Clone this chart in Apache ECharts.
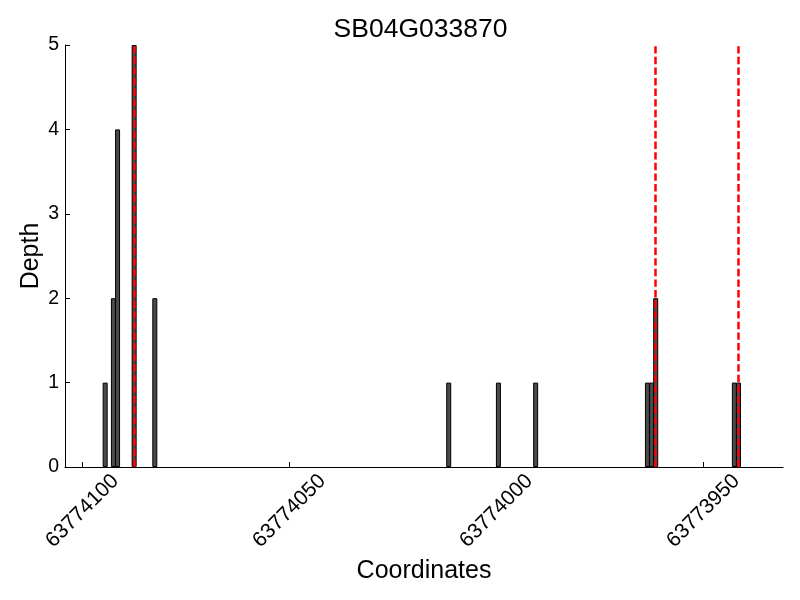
<!DOCTYPE html>
<html>
<head>
<meta charset="utf-8">
<script src="https://cdn.jsdelivr.net/npm/echarts@6/dist/echarts.min.js"></script>
<style>html,body{margin:0;padding:0;background:#fff}#c{width:800px;height:600px}</style>
</head>
<body>
<div id="c"></div>
<script>
const title = "SB04G033870";
const positions = [63774094.5, 63774092.5, 63774091.5, 63774087.5, 63774082.5, 63774011.5, 63773999.5, 63773990.5, 63773963.5, 63773962.5, 63773961.5, 63773942.5, 63773941.5];
const depths =    [1, 2, 4, 5, 2, 1, 1, 1, 1, 1, 2, 1, 1];
const markers = [63774087.5, 63773961.5, 63773941.5];
const xTicks = [63774100, 63774050, 63774000, 63773950];
const xRange = [63773930.75, 63774104.2];
const yTicks = [0, 1, 2, 3, 4, 5];

const font = "'Liberation Sans', Arial, sans-serif";
const chart = echarts.init(document.getElementById('c'), null, {renderer: 'canvas'});
chart.setOption({
  animation: false,
  backgroundColor: '#fff',
  title: {
    text: title, left: 420.5, top: 16, padding: 0, textAlign: 'center',
    textStyle: {fontFamily: font, fontSize: 26.5, fontWeight: 'normal', color: '#000'}
  },
  grid: {left: 65, right: 17, top: 45, bottom: 133, containLabel: false},
  xAxis: {
    type: 'value', inverse: true, min: xRange[0], max: xRange[1],
    name: 'Coordinates', nameLocation: 'middle', nameGap: 85,
    nameTextStyle: {fontFamily: font, fontSize: 25, color: '#000'},
    axisLine: {show: true, onZero: false, lineStyle: {color: '#000', width: 1}},
    axisTick: {show: true, inside: true, length: 5, customValues: xTicks, lineStyle: {color: '#000'}},
    axisLabel: {
      customValues: xTicks, rotate: 45, align: 'center', verticalAlign: 'middle', margin: 44,
      fontFamily: font, fontSize: 21, color: '#000', formatter: v => String(v)
    },
    splitLine: {show: false}
  },
  yAxis: {
    type: 'value', min: yTicks[0], max: yTicks[yTicks.length - 1], interval: 1,
    name: 'Depth', nameLocation: 'middle', nameGap: 21, nameMoveOverlap: false,
    nameTextStyle: {fontFamily: font, fontSize: 25, color: '#000'},
    axisLine: {show: true, lineStyle: {color: '#000', width: 1}},
    axisTick: {show: true, inside: true, length: 5, lineStyle: {color: '#000'}},
    axisLabel: {fontFamily: font, fontSize: 19.5, color: '#000', margin: 6},
    splitLine: {show: false}
  },
  series: [{
    type: 'bar',
    data: positions.map((p, i) => [p, depths[i]]),
    barWidth: 5,
    itemStyle: {color: '#4a4a4a', borderColor: '#000', borderWidth: 1},
    markLine: {
      silent: true, symbol: 'none', animation: false,
      label: {show: false},
      lineStyle: {color: '#ff0000', width: 2.5, type: [7.4, 3.2]},
      data: markers.map(m => ({xAxis: m}))
    }
  }]
});
</script>
</body>
</html>
